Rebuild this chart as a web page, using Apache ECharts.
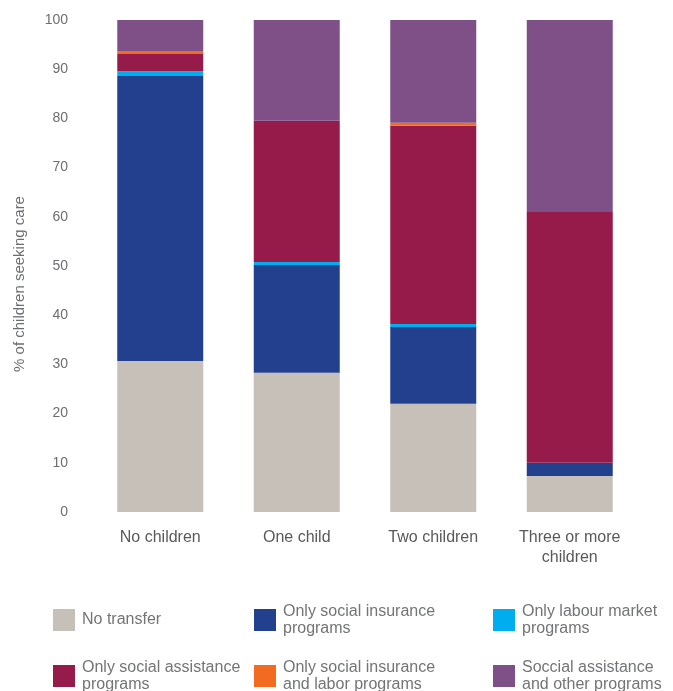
<!DOCTYPE html>
<html>
<head>
<meta charset="utf-8">
<script src="https://cdn.jsdelivr.net/npm/echarts@6/dist/echarts.min.js"></script>
<style>
html,body{margin:0;padding:0;background:#fff;}
#chart{width:673px;height:691px;}
</style>
</head>
<body>
<div id="chart"></div>
<script>
var categories = ['No children', 'One child', 'Two children', 'Three or more\nchildren'];
var seriesNames = ['No transfer', 'Only social insurance programs', 'Only labour market programs', 'Only social assistance programs', 'Only social insurance and labor programs', 'Soccial assistance and other programs'];
var legendLabels = ['No transfer', 'Only social insurance\nprograms', 'Only labour market\nprograms', 'Only social assistance\nprograms', 'Only social insurance\nand labor programs', 'Soccial assistance\nand other programs'];
var noTransfer = [30.7, 28.3, 22.0, 7.3];
var socialInsurance = [57.9, 21.9, 15.6, 2.7];
var labourMarket = [1.0, 0.6, 0.6, 0];
var socialAssistance = [3.5, 28.7, 40.3, 51.0];
var insuranceAndLabor = [0.6, 0, 0.6, 0];
var assistanceOther = [6.3, 20.5, 20.9, 39.0];
var yTicks = [0, 10, 20, 30, 40, 50, 60, 70, 80, 90, 100];

var colors = ['#c7c0b9', '#23408e', '#00aeef', '#971b4a', '#f26b21', '#7f4f87'];
var values = [noTransfer, socialInsurance, labourMarket, socialAssistance, insuranceAndLabor, assistanceOther];
var font = 'Liberation Sans, Arial, sans-serif';

var series = seriesNames.map(function (n, i) {
  return {
    name: n, type: 'bar', stack: 'total', barWidth: 86,
    itemStyle: { color: colors[i] },
    data: values[i]
  };
});

var legendPos = [
  { left: 53, top: 609 }, { left: 254, top: 602 }, { left: 493, top: 602 },
  { left: 53, top: 658 }, { left: 254, top: 658 }, { left: 493, top: 658 }
];
var legends = seriesNames.map(function (n, i) {
  return {
    data: [n], left: legendPos[i].left, top: legendPos[i].top,
    itemWidth: 22, itemHeight: 22, icon: 'rect', padding: 0, itemGap: 7,
    formatter: function () { return legendLabels[i]; },
    textStyle: { color: '#737476', fontSize: 16, fontFamily: font, lineHeight: 17, padding: [2, 0, 0, 2] },
    selectedMode: false
  };
});

var chart = echarts.init(document.getElementById('chart'));
chart.setOption({
  animation: false,
  backgroundColor: '#fff',
  grid: { left: 92, right: 35, top: 20, bottom: 179 },
  legend: legends,
  xAxis: {
    type: 'category', data: categories,
    axisLine: { show: false }, axisTick: { show: false },
    axisLabel: { color: '#58595b', fontSize: 16, fontFamily: font, margin: 16, lineHeight: 20 }
  },
  yAxis: {
    type: 'value', min: yTicks[0], max: yTicks[yTicks.length - 1], interval: 10,
    name: '% of children seeking care', nameLocation: 'middle', nameGap: 65,
    nameTextStyle: { color: '#6d6e71', fontSize: 15, fontFamily: font, padding: [0, 36, 0, 0] },
    axisLine: { show: false }, axisTick: { show: false }, splitLine: { show: false },
    axisLabel: { color: '#6d6e71', fontSize: 14, fontFamily: font, margin: 24 }
  },
  series: series
});
</script>
</body>
</html>
